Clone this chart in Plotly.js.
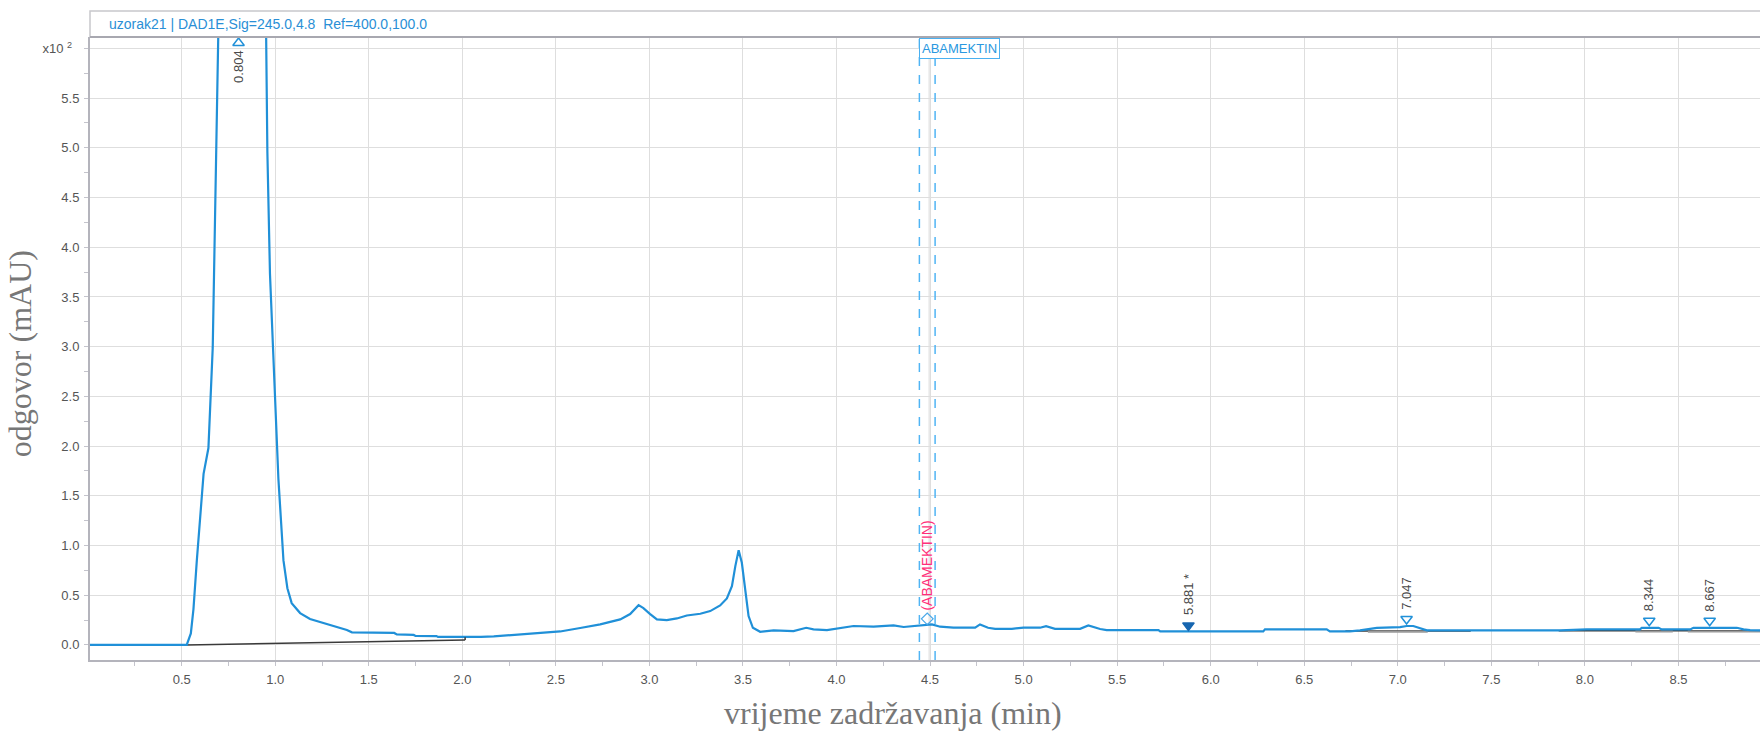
<!DOCTYPE html>
<html>
<head>
<meta charset="utf-8">
<script src="https://cdn.plot.ly/plotly-3.0.1.min.js"></script>
<style>html,body{margin:0;padding:0;background:#fff;}#chart{width:1760px;height:735px;}</style>
</head>
<body>
<div id="chart"></div>
<script>
// ---- data (time in min, signal in x10^2 mAU) ----
const timeMin = [0, 0.52, 0.527, 0.549, 0.563, 0.581, 0.599, 0.617, 0.643, 0.656, 0.666, 0.673, 0.679, 0.688, 0.70, 0.75, 0.804, 0.86, 0.92, 0.951, 0.958, 0.972, 0.994, 1.017, 1.044, 1.065, 1.088, 1.133, 1.186, 1.258, 1.329, 1.383, 1.41, 1.5, 1.636, 1.65, 1.74, 1.75, 1.862, 1.87, 2.015, 2.1, 2.168, 2.27, 2.393, 2.523, 2.63, 2.737, 2.844, 2.897, 2.942, 2.968, 3.004, 3.04, 3.093, 3.147, 3.2, 3.272, 3.325, 3.378, 3.414, 3.441, 3.459, 3.477, 3.494, 3.512, 3.53, 3.553, 3.592, 3.664, 3.77, 3.838, 3.877, 3.949, 4.038, 4.091, 4.198, 4.305, 4.359, 4.448, 4.51, 4.554, 4.625, 4.741, 4.767, 4.81, 4.848, 4.937, 5.0, 5.088, 5.12, 5.168, 5.302, 5.346, 5.409, 5.444, 5.721, 5.73, 6.281, 6.29, 6.62, 6.637, 6.744, 6.798, 6.888, 7.012, 7.048, 7.083, 7.128, 7.155, 7.867, 8.01, 8.295, 8.304, 8.394, 8.411, 8.563, 8.58, 8.812, 8.848, 8.883, 8.936];
const signal = [0, 0, 0, 0.115, 0.36, 0.85, 1.26, 1.72, 1.98, 2.5, 2.99, 3.73, 4.55, 5.57, 6.6, 8.2, 8.8, 8.3, 7.0, 6.2, 4.96, 3.73, 2.70, 1.67, 0.85, 0.57, 0.42, 0.32, 0.26, 0.22, 0.18, 0.15, 0.126, 0.125, 0.12, 0.105, 0.10, 0.09, 0.088, 0.08, 0.078, 0.08, 0.085, 0.10, 0.116, 0.135, 0.17, 0.206, 0.256, 0.31, 0.40, 0.37, 0.31, 0.256, 0.25, 0.266, 0.296, 0.313, 0.34, 0.397, 0.467, 0.59, 0.79, 0.953, 0.826, 0.558, 0.29, 0.172, 0.132, 0.146, 0.139, 0.172, 0.156, 0.149, 0.172, 0.19, 0.183, 0.196, 0.18, 0.196, 0.206, 0.183, 0.173, 0.173, 0.206, 0.172, 0.162, 0.162, 0.173, 0.173, 0.189, 0.162, 0.162, 0.196, 0.16, 0.149, 0.149, 0.136, 0.136, 0.156, 0.156, 0.136, 0.136, 0.146, 0.172, 0.179, 0.19, 0.19, 0.162, 0.146, 0.146, 0.156, 0.156, 0.172, 0.172, 0.156, 0.156, 0.172, 0.172, 0.156, 0.149, 0.146];

// integration baselines
const baselineDarkStart = [0.527, 6.72, 7.86];
const baselineDarkStartVal = [0.0, 0.14, 0.143];
const baselineDarkEnd = [2.015, 7.39, 8.936];
const baselineDarkEndVal = [0.05, 0.14, 0.143];
const baselineGrayStart = [6.84, 8.27, 8.55];
const baselineGrayEnd = [7.16, 8.47, 8.936];
const baselineGrayVal = [0.133, 0.135, 0.135];

// peaks
const peakTimes = [0.804, 5.881, 7.047, 8.344, 8.667];
const peakLabels = ['0.804', '5.881 *', '7.047', '8.344', '8.667'];

// compound window
const compoundName = 'ABAMEKTIN';
const compoundRT = 4.485;
const compoundWindow = [4.443, 4.527];

const xTickVals = [0.5, 1.0, 1.5, 2.0, 2.5, 3.0, 3.5, 4.0, 4.5, 5.0, 5.5, 6.0, 6.5, 7.0, 7.5, 8.0, 8.5];
const xTickText = ['0.5', '1.0', '1.5', '2.0', '2.5', '3.0', '3.5', '4.0', '4.5', '5.0', '5.5', '6.0', '6.5', '7.0', '7.5', '8.0', '8.5'];
const yTickVals = [0, 0.5, 1.0, 1.5, 2.0, 2.5, 3.0, 3.5, 4.0, 4.5, 5.0, 5.5, 6.0];
const yTickText = ['0.0', '0.5', '1.0', '1.5', '2.0', '2.5', '3.0', '3.5', '4.0', '4.5', '5.0', '5.5', 'x10 <sup>2</sup>\u00a0\u00a0'];

const headerText = 'uzorak21 | DAD1E,Sig=245.0,4.8\u00a0 Ref=400.0,100.0';
const xTitle = 'vrijeme zadržavanja (min)';
const yTitle = 'odgovor (mAU)';

// ---- helpers ----
const Y_MAX = 6.115;
function interp(t) {
  for (let i = 1; i < timeMin.length; i++) {
    if (timeMin[i] >= t) {
      const f = (t - timeMin[i-1]) / (timeMin[i] - timeMin[i-1]);
      return signal[i-1] + f * (signal[i] - signal[i-1]);
    }
  }
  return signal[signal.length - 1];
}

const BLUE = '#2090d8';
const traces = [];

baselineDarkStart.forEach((s, i) => {
  traces.push({x: [s, baselineDarkEnd[i]], y: [baselineDarkStartVal[i], baselineDarkEndVal[i]], mode: 'lines',
    line: {color: '#3a3a3a', width: 1.5}, hoverinfo: 'skip', showlegend: false});
});
baselineGrayStart.forEach((s, i) => {
  traces.push({x: [s, baselineGrayEnd[i]], y: [baselineGrayVal[i], baselineGrayVal[i]], mode: 'lines',
    line: {color: '#9a9a9a', width: 2}, hoverinfo: 'skip', showlegend: false});
});

traces.push({x: timeMin, y: signal, mode: 'lines', line: {color: BLUE, width: 2.2}, showlegend: false});

traces.push({x: [baselineDarkEnd[0], baselineDarkEnd[0]], y: [baselineDarkEndVal[0], interp(baselineDarkEnd[0])], mode: 'lines',
  line: {color: '#3a3a3a', width: 1.5}, hoverinfo: 'skip', showlegend: false});

const mk = {x: [], y: [], symbol: [], color: []};
peakTimes.forEach((t, i) => {
  const v = interp(t);
  if (v > Y_MAX) { mk.x.push(t); mk.y.push(Y_MAX - 0.06); mk.symbol.push('triangle-up-open'); mk.color.push(BLUE); }
  else if (i === 1) { mk.x.push(t); mk.y.push(v + 0.06); mk.symbol.push('triangle-down'); mk.color.push('#1766b0'); }
  else { mk.x.push(t); mk.y.push(v + 0.07); mk.symbol.push('triangle-down-open'); mk.color.push(BLUE); }
});
traces.push({x: mk.x, y: mk.y, mode: 'markers', cliponaxis: false,
  marker: {symbol: mk.symbol, color: mk.color, size: 10, line: {width: 1.5, color: mk.color}}, showlegend: false});
traces.push({x: [compoundRT], y: [interp(compoundRT) + 0.06], mode: 'markers',
  marker: {symbol: 'diamond-open', color: '#4aa8e8', size: 9, line: {width: 1.2}}, showlegend: false});

const annotations = [];
peakTimes.forEach((t, i) => {
  const v = interp(t);
  let yc;
  if (v > Y_MAX) yc = 5.82; else if (i === 1) yc = v + 0.37; else yc = v + 0.33;
  annotations.push({x: t, y: yc, xref: 'x', yref: 'y', text: peakLabels[i], showarrow: false, textangle: -90,
    font: {family: 'Liberation Sans, Arial', size: 13, color: '#4a4a4a'}, xanchor: 'center', yanchor: 'middle'});
});
annotations.push({x: compoundRT, y: 0.8, xref: 'x', yref: 'y', text: '(' + compoundName + ')', showarrow: false, textangle: -90,
  xanchor: 'center', yanchor: 'middle',
  font: {family: 'Liberation Sans, Arial', size: 14, color: '#ff2f7a'}});
annotations.push({x: compoundWindow[0], y: 6.1, xref: 'x', yref: 'y', text: compoundName, showarrow: false,
  xanchor: 'left', yanchor: 'top', bgcolor: '#ffffff', bordercolor: '#4ab0f0', borderwidth: 1, borderpad: 2,
  font: {family: 'Liberation Sans, Arial', size: 13, color: '#2a98e0'}});
annotations.push({x: 0.0102, y: 1.0205, xref: 'paper', yref: 'paper', text: headerText, showarrow: false,
  xanchor: 'left', yanchor: 'middle', font: {family: 'Liberation Sans, Arial', size: 14, color: '#2a8fd6'}});
annotations.push({x: -0.0419, y: 0.491, xref: 'paper', yref: 'paper', text: yTitle, showarrow: false, textangle: -90,
  xanchor: 'center', yanchor: 'middle',
  font: {family: 'Liberation Serif, Times New Roman, serif', size: 32, color: '#777'}});
annotations.push({x: 0.481, y: -0.085, xref: 'paper', yref: 'paper', text: xTitle, showarrow: false,
  xanchor: 'center', yanchor: 'middle',
  font: {family: 'Liberation Serif, Times New Roman, serif', size: 32, color: '#777'}});

const shapes = [
  {type: 'rect', xref: 'paper', yref: 'paper', x0: 0, x1: 1.01, y0: 1.0, y1: 1.0417, line: {color: '#c8c8cc', width: 1.5}, fillcolor: 'rgba(0,0,0,0)', layer: 'below'},
  {type: 'line', xref: 'paper', yref: 'paper', x0: 0, x1: 1, y0: 1.0, y1: 1.0, line: {color: '#a8a8b0', width: 2}},
  {type: 'line', xref: 'x', yref: 'paper', x0: compoundRT + 0.01, x1: compoundRT + 0.01, y0: 0, y1: 1, line: {color: '#dadada', width: 1}, layer: 'below'},
  {type: 'line', xref: 'x', yref: 'paper', x0: compoundWindow[0], x1: compoundWindow[0], y0: 0, y1: 1, line: {color: '#50b4f4', width: 1.5, dash: 'dash'}},
  {type: 'line', xref: 'x', yref: 'paper', x0: compoundWindow[1], x1: compoundWindow[1], y0: 0, y1: 1, line: {color: '#50b4f4', width: 1.5, dash: 'dash'}}
];

const axisCommon = {
  showline: true, linecolor: '#b4b4bc', linewidth: 2, zeroline: false,
  gridcolor: '#dedede', gridwidth: 1, ticks: '',
  tickfont: {family: 'Liberation Sans, Arial', size: 13, color: '#555'}
};

const layout = {
  width: 1760, height: 735,
  margin: {l: 90, r: 0, t: 37, b: 75, pad: 0},
  paper_bgcolor: '#ffffff', plot_bgcolor: '#ffffff',
  showlegend: false,
  xaxis: Object.assign({}, axisCommon, {
    range: [0.01, 8.936], tickmode: 'array', tickvals: xTickVals, ticktext: xTickText, ticklabelstandoff: 6,
    minor: {tick0: 0, dtick: 0.25, ticks: 'outside', ticklen: 4, tickcolor: '#c4c4cc', tickwidth: 1, showgrid: false}
  }),
  yaxis: Object.assign({}, axisCommon, {
    range: [-0.152, Y_MAX], tickmode: 'array', tickvals: yTickVals, ticktext: yTickText, ticklabelstandoff: 6,
    minor: {tick0: 0, dtick: 0.25, ticks: 'outside', ticklen: 4, tickcolor: '#c4c4cc', tickwidth: 1, showgrid: false}
  }),
  annotations: annotations,
  shapes: shapes
};

Plotly.newPlot('chart', traces, layout, {staticPlot: true, displayModeBar: false});
</script>
</body>
</html>
